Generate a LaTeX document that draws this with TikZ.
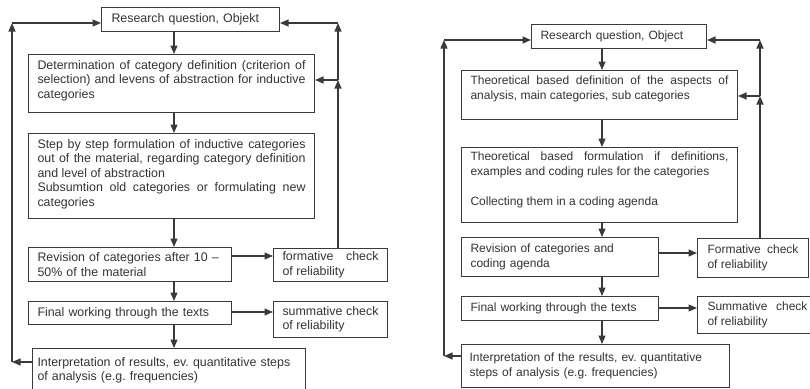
\documentclass[tikz,border=0pt]{standalone}
\usepackage{fontspec}
\setmainfont{Liberation Sans}
\usetikzlibrary{arrows.meta}
\definecolor{linec}{HTML}{3A3A3A}
\definecolor{txtc}{HTML}{333333}
\frenchspacing
\begin{document}
\begin{tikzpicture}[x=1pt,y=-1pt,
  box/.style={draw=linec, line width=1pt, anchor=north west, inner sep=0pt, text=txtc, align=justify},
  lbox/.style={box, font=\fontsize{12.4}{14.5}\selectfont\frenchspacing},
  rbox/.style={box, font=\fontsize{12}{15}\selectfont\frenchspacing},
  arr/.style={draw=linec, line width=1.15pt, -{Triangle[length=8.5pt,width=7pt]}}]
\useasboundingbox (0,0) rectangle (810,388);
\clip (0,0) rectangle (810,388);
% ---------------- left diagram ----------------
\node[lbox, minimum width=178, minimum height=24, text width=158, align=left] (rq1) at (101,7) {Research question, Objekt};
\node[lbox, minimum width=286, minimum height=58, text width=268] (det1) at (28,54) {Determination of category definition (criterion of\linebreak selection) and levens of abstraction for inductive\linebreak categories\par\vspace{6pt}};
\node[lbox, minimum width=286, minimum height=85, text width=268] (stp1) at (28,133) {Step by step formulation of inductive categories\linebreak out of the material, regarding category definition\linebreak and level of abstraction\newline Subsumtion old categories or formulating new\linebreak categories\par\vspace{4pt}};
\node[lbox, minimum width=203, minimum height=34, text width=185, align=left] (rev1) at (28,247) {Revision of categories after 10 –\newline 50\% of the material};
\node[lbox, minimum width=114, minimum height=33, text width=96] (fch1) at (273,248) {formative check\linebreak of reliability};
\node[lbox, minimum width=203, minimum height=23, text width=185, align=left] (fin1) at (28,301) {Final working through the texts};
\node[lbox, minimum width=114, minimum height=36, text width=96] (sch1) at (273,301) {summative check\linebreak of reliability};
\node[lbox, minimum width=273, minimum height=44, text width=263, align=left] (int1) at (32,348) {Interpretation of results, ev. quantitative steps\newline of analysis (e.g. frequencies)};
\coordinate (axL) at (174,0);
\coordinate (yA) at (0,256);
\coordinate (yB) at (0,312);
\coordinate (L1) at (12,23);
\coordinate (L2) at (12,362);
\coordinate (R1) at (338,23);
\coordinate (R2) at (338,80);
\draw[arr] (rq1.south -| axL) -- (det1.north -| axL);
\draw[arr] (det1.south -| axL) -- (stp1.north -| axL);
\draw[arr] (stp1.south -| axL) -- (rev1.north -| axL);
\draw[arr] (rev1.south -| axL) -- (fin1.north -| axL);
\draw[arr] (fin1.south -| axL) -- (int1.north -| axL);
\draw[arr] (rev1.east |- yA) -- (fch1.west |- yA);
\draw[arr] (fin1.east |- yB) -- (sch1.west |- yB);
\draw[arr] (int1.west |- L2) -- (L2);
\draw[arr] (L2) -- (L1);
\draw[arr] (L1) -- (rq1.west |- L1);
\draw[arr] (fch1.north -| R1) -- (R2);
\draw[arr] (R2) -- (R1);
\draw[arr] (R1) -- (rq1.east |- R1);
\draw[arr] (R2) -- (det1.east |- R2);
% ---------------- right diagram ----------------
\node[rbox, minimum width=175, minimum height=24, text width=157, align=left] (rq2) at (531,24) {Research question, Object};
\node[rbox, minimum width=276, minimum height=49, text width=258] (def2) at (461,70) {Theoretical based definition of the aspects of\linebreak analysis, main categories, sub categories\par\vspace{12pt}};
\node[rbox, minimum width=276, minimum height=75, text width=258] (frm2) at (461,147) {Theoretical based formulation if definitions,\linebreak examples and coding rules for the categories\newline\mbox{}\newline Collecting them in a coding agenda\par\vspace{11pt}};
\node[rbox, minimum width=197, minimum height=39, text width=179, align=left] (rev2) at (461,237) {Revision of categories and\newline coding agenda};
\node[rbox, minimum width=111, minimum height=39, text width=91] (fch2) at (697,238) {Formative check\linebreak of reliability};
\node[rbox, minimum width=197, minimum height=24, text width=179, align=left] (fin2) at (461,296) {Final working through the texts};
\node[rbox, minimum width=120, minimum height=37, text width=100] (sch2) at (697,296) {Summative check\linebreak of reliability};
\node[rbox, minimum width=268, minimum height=43, text width=252, align=left] (int2) at (461,344) {Interpretation of the results, ev. quantitative\newline steps of analysis (e.g. frequencies)};
\coordinate (axR) at (602,0);
\coordinate (yC) at (0,253);
\coordinate (yD) at (0,308);
\coordinate (L3) at (444,40);
\coordinate (L4) at (444,356);
\coordinate (R3) at (760,40);
\coordinate (R4) at (760,96);
\draw[arr] (rq2.south -| axR) -- (def2.north -| axR);
\draw[arr] (def2.south -| axR) -- (frm2.north -| axR);
\draw[arr] (frm2.south -| axR) -- (rev2.north -| axR);
\draw[arr] (rev2.south -| axR) -- (fin2.north -| axR);
\draw[arr] (fin2.south -| axR) -- (int2.north -| axR);
\draw[arr] (rev2.east |- yC) -- (fch2.west |- yC);
\draw[arr] (fin2.east |- yD) -- (sch2.west |- yD);
\draw[arr] (int2.west |- L4) -- (L4);
\draw[arr] (L4) -- (L3);
\draw[arr] (L3) -- (rq2.west |- L3);
\draw[arr] (fch2.north -| R3) -- (R4);
\draw[arr] (R4) -- (R3);
\draw[arr] (R3) -- (rq2.east |- R3);
\draw[arr] (R4) -- (def2.east |- R4);
\end{tikzpicture}
\end{document}
